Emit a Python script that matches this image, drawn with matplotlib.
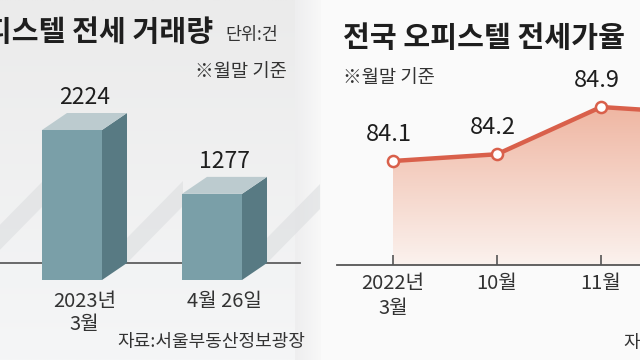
import matplotlib
matplotlib.use("Agg")
import matplotlib.pyplot as plt
import numpy as np
from matplotlib.patches import Polygon, Rectangle
from matplotlib.colors import LinearSegmentedColormap

plt.rcParams['font.family'] = ['Noto Sans CJK KR', 'DejaVu Sans']

# 왼쪽: 오피스텔 전세 거래량
deal_labels = ['2023년\n3월', '4월 26일']
deal_values = [2224, 1277]

# 오른쪽: 전국 오피스텔 전세가율 (마지막 값은 잘려서 추정)
rate_labels = ['2022년\n3월', '10월', '11월', '12월']
rate_values = [84.1, 84.2, 84.9, 84.8]

W, H = 640, 360
fig = plt.figure(figsize=(6.4, 3.6), dpi=100)

# 배경 (픽셀 좌표)
bg = fig.add_axes([0, 0, 1, 1])
bg.set_xlim(0, W)
bg.set_ylim(H, 0)
bg.axis('off')
bg.add_patch(Rectangle((0, 0), W, H, color='#fafafa', zorder=0))
grad = np.linspace(0, 1, 256).reshape(-1, 1)
cm_bg = LinearSegmentedColormap.from_list('bg', ['#ebebeb', '#f5f6f7'])
bg.imshow(grad, cmap=cm_bg, extent=(0, 321, H, 0), aspect='auto', zorder=0.5)
cm_edge = LinearSegmentedColormap.from_list('edge', ['#eeeeef', '#f8f8f8'])
bg.imshow(np.linspace(0, 1, 64).reshape(1, -1), cmap=cm_edge,
          extent=(295, 321, H, 0), aspect='auto', zorder=0.6)


def frac_box(x0, y0, x1, y1):
    return [x0 / W, 1 - y1 / H, (x1 - x0) / W, (y1 - y0) / H]


# ---------- 왼쪽 막대 ----------
ax1 = fig.add_axes(frac_box(0, 0, 320, 280))
ax1.patch.set_alpha(0)
ymax = 2224 * 280 / 150
u = ymax / 280  # 값 단위 / px

bw = 60 / 140
dx = 25 / 140
dy = 17 * u
xs = np.arange(len(deal_values))

front = '#7a9fa8'
side = '#587a83'
top = '#bccbcf'

# 그림자 띠
for xi in list(xs) + [-1]:
    r = xi + bw / 2 + dx
    poly = [(r, dy), (r, dy + 25 * u), (r + 0.4, dy + 82 * u), (r + 0.4, dy + 57 * u)]
    ax1.add_patch(Polygon(poly, closed=True, color='#dcdee0', alpha=0.6,
                          lw=0, zorder=1))

ax1.axhline(dy, xmin=0, xmax=300 / 320, color='#5e5e5e', lw=1.3, zorder=1.5)

ax1.bar(xs, deal_values, width=bw, color=front, zorder=3)
for xi, v in zip(xs, deal_values):
    r = xi + bw / 2
    ax1.add_patch(Polygon([(r, 0), (r + dx, dy), (r + dx, v + dy), (r, v)],
                          closed=True, color=side, lw=0, zorder=3))
    ax1.add_patch(Polygon([(xi - bw / 2, v), (r, v), (r + dx, v + dy),
                           (xi - bw / 2 + dx, v + dy)],
                          closed=True, color=top, lw=0, zorder=3))
    ax1.annotate(f'{v}', (xi + dx / 2, v + dy), xytext=(0, 6.5),
                 textcoords='offset points', ha='center', va='baseline',
                 fontsize=16.5, color='#1e1e1e')

ax1.set_xticks(xs + dx / 2)
ax1.set_xticklabels(deal_labels, fontsize=14.5, color='#333333', linespacing=1.1)
ax1.tick_params(axis='x', length=0, pad=8)
ax1.set_yticks([])
for s in ax1.spines.values():
    s.set_visible(False)
ax1.set_ylim(0, ymax)
ax1.set_xlim(-72 / 140, (320 - 72) / 140)

bg.text(213, 32, '오피스텔 전세 거래량', ha='right', va='center',
        fontsize=21, color='#1e1e1e', fontweight='bold')
bg.text(225, 35, '단위:건', ha='left', va='center', fontsize=12.5, color='#333333')
bg.text(287, 72, '※월말 기준', ha='right', va='center', fontsize=13.5, color='#333333')
bg.text(305, 342, '자료:서울부동산정보광장', ha='right', va='center',
        fontsize=13, color='#333333')

# ---------- 오른쪽 선 ----------
ax2 = fig.add_axes(frac_box(337, 0, 640, 265))
ax2.patch.set_alpha(0)
x_lim = (-(393 - 337) / 104, (640 - 393) / 104)
y0 = 84.1 - (265 - 161) / 67.5
y_lim = (y0, 84.1 + 161 / 67.5)
xr = np.arange(len(rate_values))

line_c = '#d9604b'
fill = ax2.fill_between(xr, rate_values, y0, color='none', lw=0)
cm_fill = LinearSegmentedColormap.from_list('fill', ['#fbf2ee', '#efb6a2'])
img = ax2.imshow(np.linspace(0, 1, 256).reshape(-1, 1), cmap=cm_fill,
                 extent=(xr[0], xr[-1], y0, max(rate_values)),
                 origin='lower', aspect='auto', zorder=1)
img.set_clip_path(fill.get_paths()[0], transform=ax2.transData)

ax2.plot(xr, rate_values, color=line_c, lw=3.2, marker='o', ms=8,
         mfc='white', mec=line_c, mew=1.8, zorder=3)
for xi, v in zip(xr, rate_values):
    ax2.annotate(f'{v}', (xi, v), xytext=(-3, 19), textcoords='offset points',
                 ha='center', va='center', fontsize=17, color='#1e1e1e',
                 annotation_clip=True)

ax2.set_xticks(xr)
ax2.set_xticklabels(rate_labels, fontsize=14.5, color='#333333', linespacing=1.25)
ax2.tick_params(axis='x', direction='in', length=7, width=1.2, color='#555555', pad=6)
ax2.set_yticks([])
for k in ['left', 'right', 'top']:
    ax2.spines[k].set_visible(False)
ax2.spines['bottom'].set_color('#555555')
ax2.spines['bottom'].set_linewidth(1.3)
ax2.set_xlim(*x_lim)
ax2.set_ylim(*y_lim)

bg.text(343, 38, '전국 오피스텔 전세가율', ha='left', va='center',
        fontsize=21, color='#1e1e1e', fontweight='bold')
bg.text(343, 78, '※월말 기준', ha='left', va='center', fontsize=13.5, color='#333333')
bg.text(623, 343, '자료', ha='left', va='center', fontsize=13, color='#333333')

fig.savefig('out.png', dpi=100)
